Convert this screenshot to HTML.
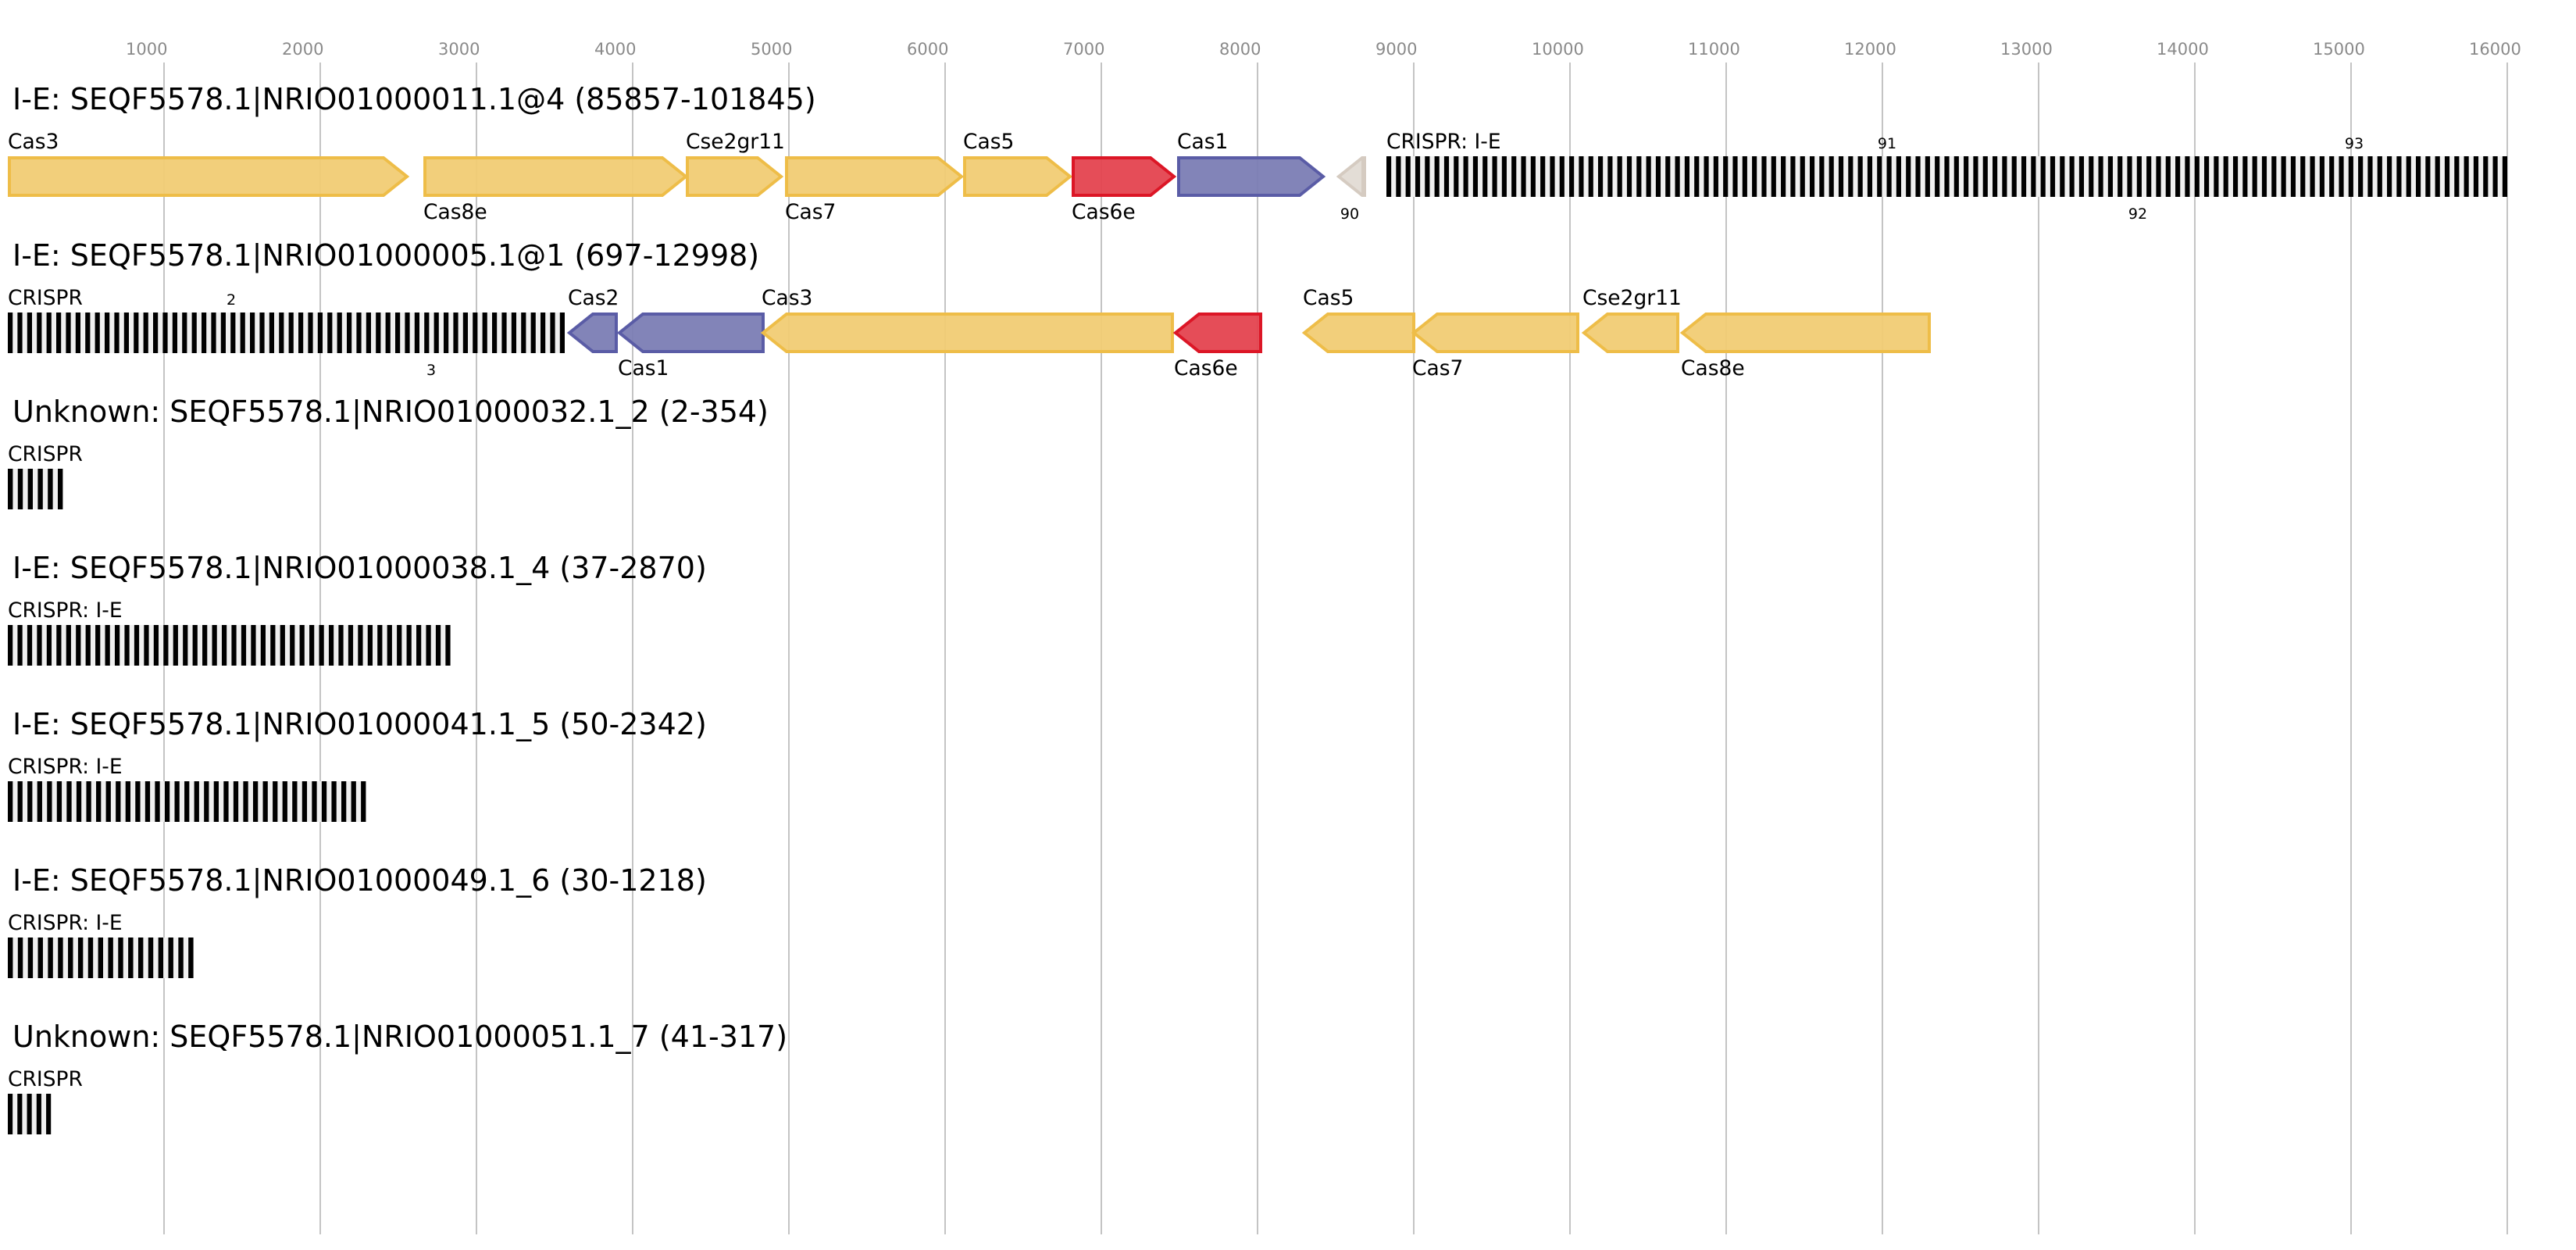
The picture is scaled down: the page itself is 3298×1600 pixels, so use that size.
<!DOCTYPE html>
<html><head><meta charset="utf-8">
<style>
html,body{margin:0;padding:0;background:#fff;}
svg{display:block;font-family:"DejaVu Sans","Liberation Sans",sans-serif;}
</style></head>
<body>
<svg id="chart" width="3298" height="1600" viewBox="0 0 3298 1600" xmlns="http://www.w3.org/2000/svg"></svg>
<script>
// ---- data ----
const tickValues = [1000,2000,3000,4000,5000,6000,7000,8000,9000,10000,11000,12000,13000,14000,15000,16000];
const trackTitles = [
  "I-E: SEQF5578.1|NRIO01000011.1@4 (85857-101845)",
  "I-E: SEQF5578.1|NRIO01000005.1@1 (697-12998)",
  "Unknown: SEQF5578.1|NRIO01000032.1_2 (2-354)",
  "I-E: SEQF5578.1|NRIO01000038.1_4 (37-2870)",
  "I-E: SEQF5578.1|NRIO01000041.1_5 (50-2342)",
  "I-E: SEQF5578.1|NRIO01000049.1_6 (30-1218)",
  "Unknown: SEQF5578.1|NRIO01000051.1_7 (41-317)"
];
const geneTrack  = [0,0,0,0,0,0,0,0,0, 1,1,1,1,1,1,1,1,1, 2,3,4,5,6];
const geneStart  = [0,2660,4340,4975,6115,6810,7485,8510,8825, 0,3585,3905,4825,7465,8290,8990,10080,10710, 0,0,0,0,0];
const geneEnd    = [2565,4350,4960,6115,6810,7475,8430,8695,16000, 3565,3905,4845,7465,8030,9010,10060,10700,12310, 352,2833,2292,1188,276];
const geneStrand = [1,1,1,1,1,1,1,-1,0, 0,-1,-1,-1,-1,-1,-1,-1,-1, 0,0,0,0,0];
const geneName   = ["Cas3","Cas8e","Cse2gr11","Cas7","Cas5","Cas6e","Cas1","","CRISPR: I-E",
                    "CRISPR","Cas2","Cas1","Cas3","Cas6e","Cas5","Cas7","Cse2gr11","Cas8e",
                    "CRISPR","CRISPR: I-E","CRISPR: I-E","CRISPR: I-E","CRISPR"];
const geneKind   = ["y","y","y","y","y","r","b","g","c", "c","b","b","y","r","y","y","y","y", "c","c","c","c","c"];
const geneLabel  = ["up","down","up","down","up","down","up","none","up",
                    "up","up","down","up","down","up","down","up","down",
                    "up","up","up","up","up"];
const numTrack = [0,0,0,0,1,1];
const numPos   = [8590,12030,13635,15020,1430,2710];
const numText  = ["90","91","92","93","2","3"];
const numSide  = ["down","up","down","up","up","down"];
const repeatUnit = 61.2;

// ---- scales ----
const X0 = 10, KX = 0.2;
const xs = v => X0 + v*KX;
const trackY = i => 200 + i*200;
const ROWH = 52, HEAD = 30;

const svg = document.getElementById('chart');
const NS = "http://www.w3.org/2000/svg";
function mk(tag, attrs, parent){
  const e = document.createElementNS(NS, tag);
  for (const k in attrs) e.setAttribute(k, attrs[k]);
  (parent||svg).appendChild(e);
  return e;
}
const colors = {
  y:{fill:"#f1cc74", stroke:"#eebd48"},
  r:{fill:"#e4434f", stroke:"#dc1626"},
  b:{fill:"#7b7db4", stroke:"#5a5ca6"},
  g:{fill:"#e2dbd4", stroke:"#d5cbc1"}
};

const grid = mk('g', {});


tickValues.forEach(v => {
  const l = mk('line', {x1:xs(v), x2:xs(v), y1:80, y2:1580, stroke:"#c4c4c4", "stroke-width":2}, grid);
  
  
  const t = mk('text', {x:xs(v)-49, y:70, "font-size":21, fill:"#8a8a8a"}, grid);
  
  
  t.textContent = v;
});

trackTitles.forEach((s, i) => {
  const t = mk('text', {x:16, y:trackY(i)-60, "font-size":38, fill:"#000"});
  
  
  t.textContent = s;
});

for (let k = 0; k < geneName.length; k++) {
  const ty = trackY(geneTrack[k]);
  const x1 = xs(geneStart[k]), x2 = xs(geneEnd[k]);
  const g = mk('g', {});
  
  
  if (geneKind[k] === 'c') {
    mk('rect', {x:x1, y:ty, width:x2-x1, height:ROWH, fill:"#f0f0f0"}, g);
    const n = Math.max(1, Math.round((geneEnd[k]-geneStart[k]) / repeatUnit));
    const pitch = (x2-x1) / (n - 0.5);
    for (let j = 0; j < n; j++) {
      mk('rect', {x:x1 + j*pitch, y:ty, width:pitch*0.5, height:ROWH, fill:"#000"}, g);
    }
  } else {
    const c = colors[geneKind[k]];
    const sw = 4, a = x1+sw/2, b = x2-sw/2, t = ty+sw/2, bo = ty+ROWH-sw/2, m = ty+ROWH/2;
    const h = Math.min(HEAD, b-a);
    let pts;
    if (geneStrand[k] >= 0) pts = [[a,t],[b-h,t],[b,m],[b-h,bo],[a,bo]];
    else pts = [[b,t],[a+h,t],[a,m],[a+h,bo],[b,bo]];
    mk('polygon', {points:pts.map(p=>p.join(',')).join(' '), fill:c.fill, stroke:c.stroke, "stroke-width":sw, "fill-opacity":0.95}, g);
    if (geneKind[k] === 'g') {
      mk('rect', {x:x2-6, y:ty, width:6, height:ROWH, fill:c.stroke}, g);
    }
  }
  if (geneLabel[k] !== 'none' && geneName[k]) {
    const ly = geneLabel[k] === 'up' ? ty-10 : ty+ROWH+28;
    const t = mk('text', {x:x1, y:ly, "font-size":26.5, fill:"#000"}, g);
    
    
    t.textContent = geneName[k];
  }
}

for (let k = 0; k < numText.length; k++) {
  const ty = trackY(numTrack[k]);
  const t = mk('text', {x:xs(numPos[k]), y: numSide[k]==='up' ? ty-10 : ty+ROWH+28, "font-size":19, fill:"#000", "text-anchor":"middle"});
  
  
  t.textContent = numText[k];
}
</script>
</body></html>
